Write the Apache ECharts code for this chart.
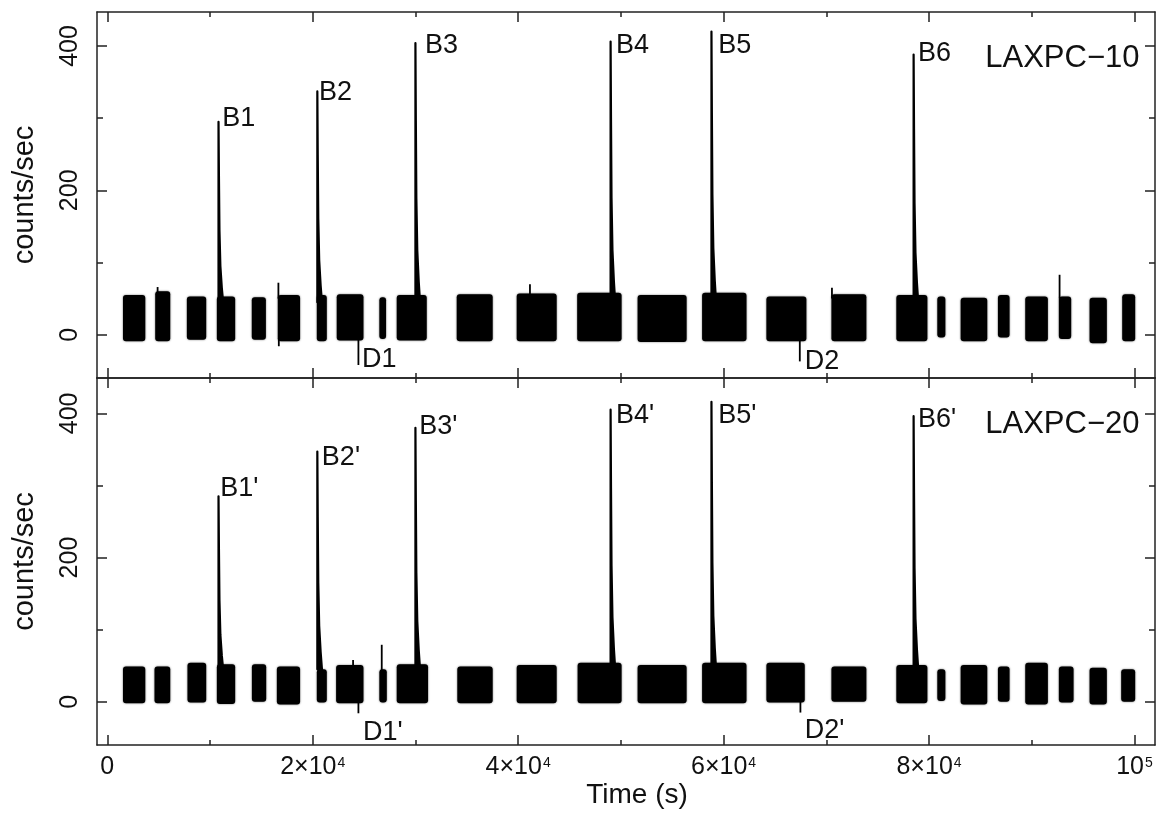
<!DOCTYPE html>
<html>
<head>
<meta charset="utf-8">
<title>LAXPC light curves</title>
<script src="https://cdn.jsdelivr.net/npm/echarts@6/dist/echarts.min.js"></script>
<style>
html, body { margin: 0; padding: 0; background: #fff; }
#chart { width: 1164px; height: 814px; }
</style>
</head>
<body>
<div id="chart"></div>
<script>
// observed data segments: [start (s), end (s), lower envelope, upper envelope]
const segments10 = [
  [1530, 3700, -9, 55], [4670, 6130, -9, 60], [7750, 9630, -7, 53], [10670, 12450, -9, 53],
  [14070, 15440, -7, 52], [16600, 18770, -9, 55], [20400, 21370, -9, 55], [22340, 24940, -8, 56],
  [26490, 27140, -6, 52], [28180, 31100, -8, 55], [34020, 37520, -9, 56], [39860, 43750, -9, 57],
  [45750, 50070, -9, 58], [51630, 56400, -10, 55], [57910, 62230, -9, 58], [64170, 68060, -9, 53],
  [70500, 73900, -9, 56], [76820, 79840, -9, 55], [80810, 81590, -4, 53], [83080, 85670, -9, 51],
  [86710, 87840, -4, 55], [89370, 91570, -9, 53], [92640, 93840, -6, 53], [95630, 97310, -12, 51],
  [98810, 100070, -9, 56]
];
const segments20 = [
  [1530, 3700, -2, 49], [4600, 6130, -2, 49], [7810, 9630, -1, 54], [10670, 12450, -3, 52],
  [14080, 15470, 0, 52], [16510, 18770, -4, 49], [20400, 21370, -1, 45], [22280, 24940, -2, 51],
  [26490, 27210, -1, 45], [28180, 31230, -2, 52], [34080, 37520, -2, 49], [39860, 43750, -2, 51],
  [45790, 50070, -2, 54], [51630, 56400, -2, 51], [57910, 62230, -2, 54], [64170, 67900, -1, 54],
  [70500, 73900, 0, 49], [76820, 79840, -2, 51], [80810, 81590, 1, 45], [83080, 85670, -4, 51],
  [86710, 87840, 0, 49], [89370, 91570, -4, 54], [92640, 94070, -1, 49], [95630, 97310, -4, 47],
  [98710, 100070, 0, 45]
];

// thermonuclear bursts
const burstTimes = [10830, 20450, 30000, 49000, 58820, 78500];
const burstPeaks10 = [295, 337, 404, 406, 420, 388];
const burstPeaks20 = [285, 347, 380, 405, 416, 396];
const burstBase = 45;
// decay shape: [seconds after peak, fraction of peak height above base]
const burstProfile = [[0, 1], [40, 0.7], [90, 0.4], [180, 0.2], [320, 0.08], [450, 0]];

// single-bin spikes and dips: [time, from, to]
const spikes10 = [
  [4900, 50, 66], [16660, 50, 72], [16700, -5, -16], [24450, -5, -42], [41150, 50, 70],
  [67420, -5, -37], [70550, 50, 65], [92710, 50, 83]
];
const spikes20 = [
  [23930, 45, 58], [24450, 0, -16], [26720, 40, 79], [67480, 0, -15]
];

// annotations: [time, counts, text]
const labels10 = [
  [11190, 299, 'B1'], [20620, 336, 'B2'], [30940, 400, 'B3'], [49520, 400, 'B4'],
  [59470, 400, 'B5'], [78920, 390, 'B6'], [24810, -35, 'D1'], [67900, -37, 'D2']
];
const labels20 = [
  [10990, 295, "B1'"], [20890, 338, "B2'"], [30380, 381, "B3'"], [49520, 397, "B4'"],
  [59470, 397, "B5'"], [78920, 391, "B6'"], [24900, -43, "D1'"], [67900, -40, "D2'"]
];
const titles = [[100490, 383, 'LAXPC\u221210'], [100490, 384, 'LAXPC\u221220']];

const xMajorTicks = [0, 20000, 40000, 60000, 80000, 100000];
const xMinorTicks = [10000, 30000, 50000, 70000, 90000];
const yMajorTicks = [0, 200, 400];
const yMinorTicks = [100, 300];

const xMin = -1000, xMax = 102000;
const yRanges = [[-60, 447], [-60, 449]];

const ink = '#111';
const frameColor = '#222';
const font = '"Liberation Sans", Arial, sans-serif';

function sciLabel(v) {
  if (v === 0) return '{b|0}';
  const e = Math.floor(Math.log10(v) + 1e-9);
  const m = Math.round(v / Math.pow(10, e));
  return (m === 1 ? '{b|10}' : '{b|' + m + '×10}') + '{s|' + e + '}';
}

function xAxesFor(grid, showLabels) {
  const common = { type: 'value', gridIndex: grid, min: xMin, max: xMax, splitLine: { show: false } };
  const tickStyle = { color: frameColor, width: 1.5 };
  return [
    Object.assign({}, common, {
      position: 'bottom',
      axisLine: { show: true, onZero: false, lineStyle: { color: frameColor, width: 1.5 } },
      axisTick: { show: true, inside: true, length: 10, customValues: xMajorTicks, lineStyle: tickStyle },
      axisLabel: showLabels ? {
        customValues: xMajorTicks, formatter: sciLabel, margin: 10,
        rich: {
          b: { fontSize: 25, fontFamily: font, color: ink },
          s: { fontSize: 14, fontFamily: font, color: ink, verticalAlign: 'top', padding: [1, 0, 0, 1] }
        }
      } : { show: false },
      name: showLabels ? 'Time (s)' : '',
      nameLocation: 'middle',
      nameGap: 34,
      nameTextStyle: { fontSize: 28, fontFamily: font, color: ink, padding: [0, 0, 0, 22] }
    }),
    Object.assign({}, common, {
      position: 'bottom',
      axisLine: { show: false, onZero: false },
      axisTick: { show: true, inside: true, length: 5, customValues: xMinorTicks, lineStyle: tickStyle },
      axisLabel: { show: false }
    }),
    Object.assign({}, common, {
      position: 'top',
      axisLine: { show: true, onZero: false, lineStyle: { color: frameColor, width: 1.5 } },
      axisTick: { show: true, inside: true, length: 10, customValues: xMajorTicks, lineStyle: tickStyle },
      axisLabel: { show: false }
    }),
    Object.assign({}, common, {
      position: 'top',
      axisLine: { show: false, onZero: false },
      axisTick: { show: true, inside: true, length: 5, customValues: xMinorTicks, lineStyle: tickStyle },
      axisLabel: { show: false }
    })
  ];
}

function yAxesFor(grid) {
  const common = { type: 'value', gridIndex: grid, min: yRanges[grid][0], max: yRanges[grid][1], splitLine: { show: false } };
  const tickStyle = { color: frameColor, width: 1.5 };
  return [
    Object.assign({}, common, {
      position: 'left',
      axisLine: { show: true, onZero: false, lineStyle: { color: frameColor, width: 1.5 } },
      axisTick: { show: true, inside: true, length: 10, customValues: yMajorTicks, lineStyle: tickStyle },
      axisLabel: { customValues: yMajorTicks, rotate: 90, margin: 14, fontSize: 25, fontFamily: font, color: ink },
      name: 'counts/sec',
      nameLocation: 'middle',
      nameGap: 58,
      nameTextStyle: { fontSize: 29, fontFamily: font, color: ink }
    }),
    Object.assign({}, common, {
      position: 'left',
      axisLine: { show: false, onZero: false },
      axisTick: { show: true, inside: true, length: 6, customValues: yMinorTicks, lineStyle: tickStyle },
      axisLabel: { show: false }
    }),
    Object.assign({}, common, {
      position: 'right',
      axisLine: { show: true, onZero: false, lineStyle: { color: frameColor, width: 1.5 } },
      axisTick: { show: true, inside: true, length: 10, customValues: yMajorTicks, lineStyle: tickStyle },
      axisLabel: { show: false }
    }),
    Object.assign({}, common, {
      position: 'right',
      axisLine: { show: false, onZero: false },
      axisTick: { show: true, inside: true, length: 6, customValues: yMinorTicks, lineStyle: tickStyle },
      axisLabel: { show: false }
    })
  ];
}

function segItem(params, api) {
  const a = api.coord([api.value(0), api.value(3)]);
  const b = api.coord([api.value(1), api.value(2)]);
  return {
    type: 'rect',
    shape: { x: a[0], y: a[1], width: b[0] - a[0], height: b[1] - a[1], r: 3 },
    style: { fill: '#000', shadowBlur: 2, shadowColor: 'rgba(0,0,0,0.6)' }
  };
}

function burstItem(params, api) {
  const t = api.value(0), peak = api.value(1), base = api.value(2);
  const pts = [api.coord([t, base])];
  burstProfile.forEach(function (p) {
    pts.push(api.coord([t + p[0], base + (peak - base) * p[1]]));
  });
  return {
    type: 'polygon',
    shape: { points: pts },
    style: { fill: '#000', stroke: '#000', lineWidth: 2.2, lineJoin: 'round' }
  };
}

function spikeItem(params, api) {
  const a = api.coord([api.value(0), api.value(1)]);
  const b = api.coord([api.value(0), api.value(2)]);
  return {
    type: 'line',
    shape: { x1: a[0], y1: a[1], x2: b[0], y2: b[1] },
    style: { stroke: '#000', lineWidth: 1.8 }
  };
}

function textRenderer(list, size, align) {
  return function (params, api) {
    const item = list[params.dataIndex];
    const p = api.coord([item[0], item[1]]);
    return {
      type: 'text',
      x: p[0], y: p[1],
      style: { text: item[2], fill: ink, fontSize: size, fontFamily: font, align: align, verticalAlign: 'middle' }
    };
  };
}

function panelSeries(grid, segs, peaks, spikes, labels, title) {
  const axes = { xAxisIndex: grid * 4, yAxisIndex: grid * 4 };
  return [
    Object.assign({ type: 'custom', renderItem: segItem, data: segs, encode: { x: [0, 1], y: [2, 3] } }, axes),
    Object.assign({ type: 'custom', renderItem: burstItem,
      data: burstTimes.map((t, i) => [t, peaks[i], burstBase]), encode: { x: 0, y: [1, 2] } }, axes),
    Object.assign({ type: 'custom', renderItem: spikeItem, data: spikes, encode: { x: 0, y: [1, 2] } }, axes),
    Object.assign({ type: 'custom', renderItem: textRenderer(labels, 27, 'left'),
      data: labels.map(l => [l[0], l[1]]), clip: false }, axes),
    Object.assign({ type: 'custom', renderItem: textRenderer([title], 31, 'right'),
      data: [[title[0], title[1]]], clip: false }, axes)
  ];
}

const chart = echarts.init(document.getElementById('chart'));
chart.setOption({
  animation: false,
  backgroundColor: '#fff',
  grid: [
    { left: 97, top: 12, width: 1058, height: 366 },
    { left: 97, top: 378, width: 1058, height: 367 }
  ],
  xAxis: xAxesFor(0, false).concat(xAxesFor(1, true)),
  yAxis: yAxesFor(0).concat(yAxesFor(1)),
  series: panelSeries(0, segments10, burstPeaks10, spikes10, labels10, titles[0])
    .concat(panelSeries(1, segments20, burstPeaks20, spikes20, labels20, titles[1]))
});
</script>
</body>
</html>
